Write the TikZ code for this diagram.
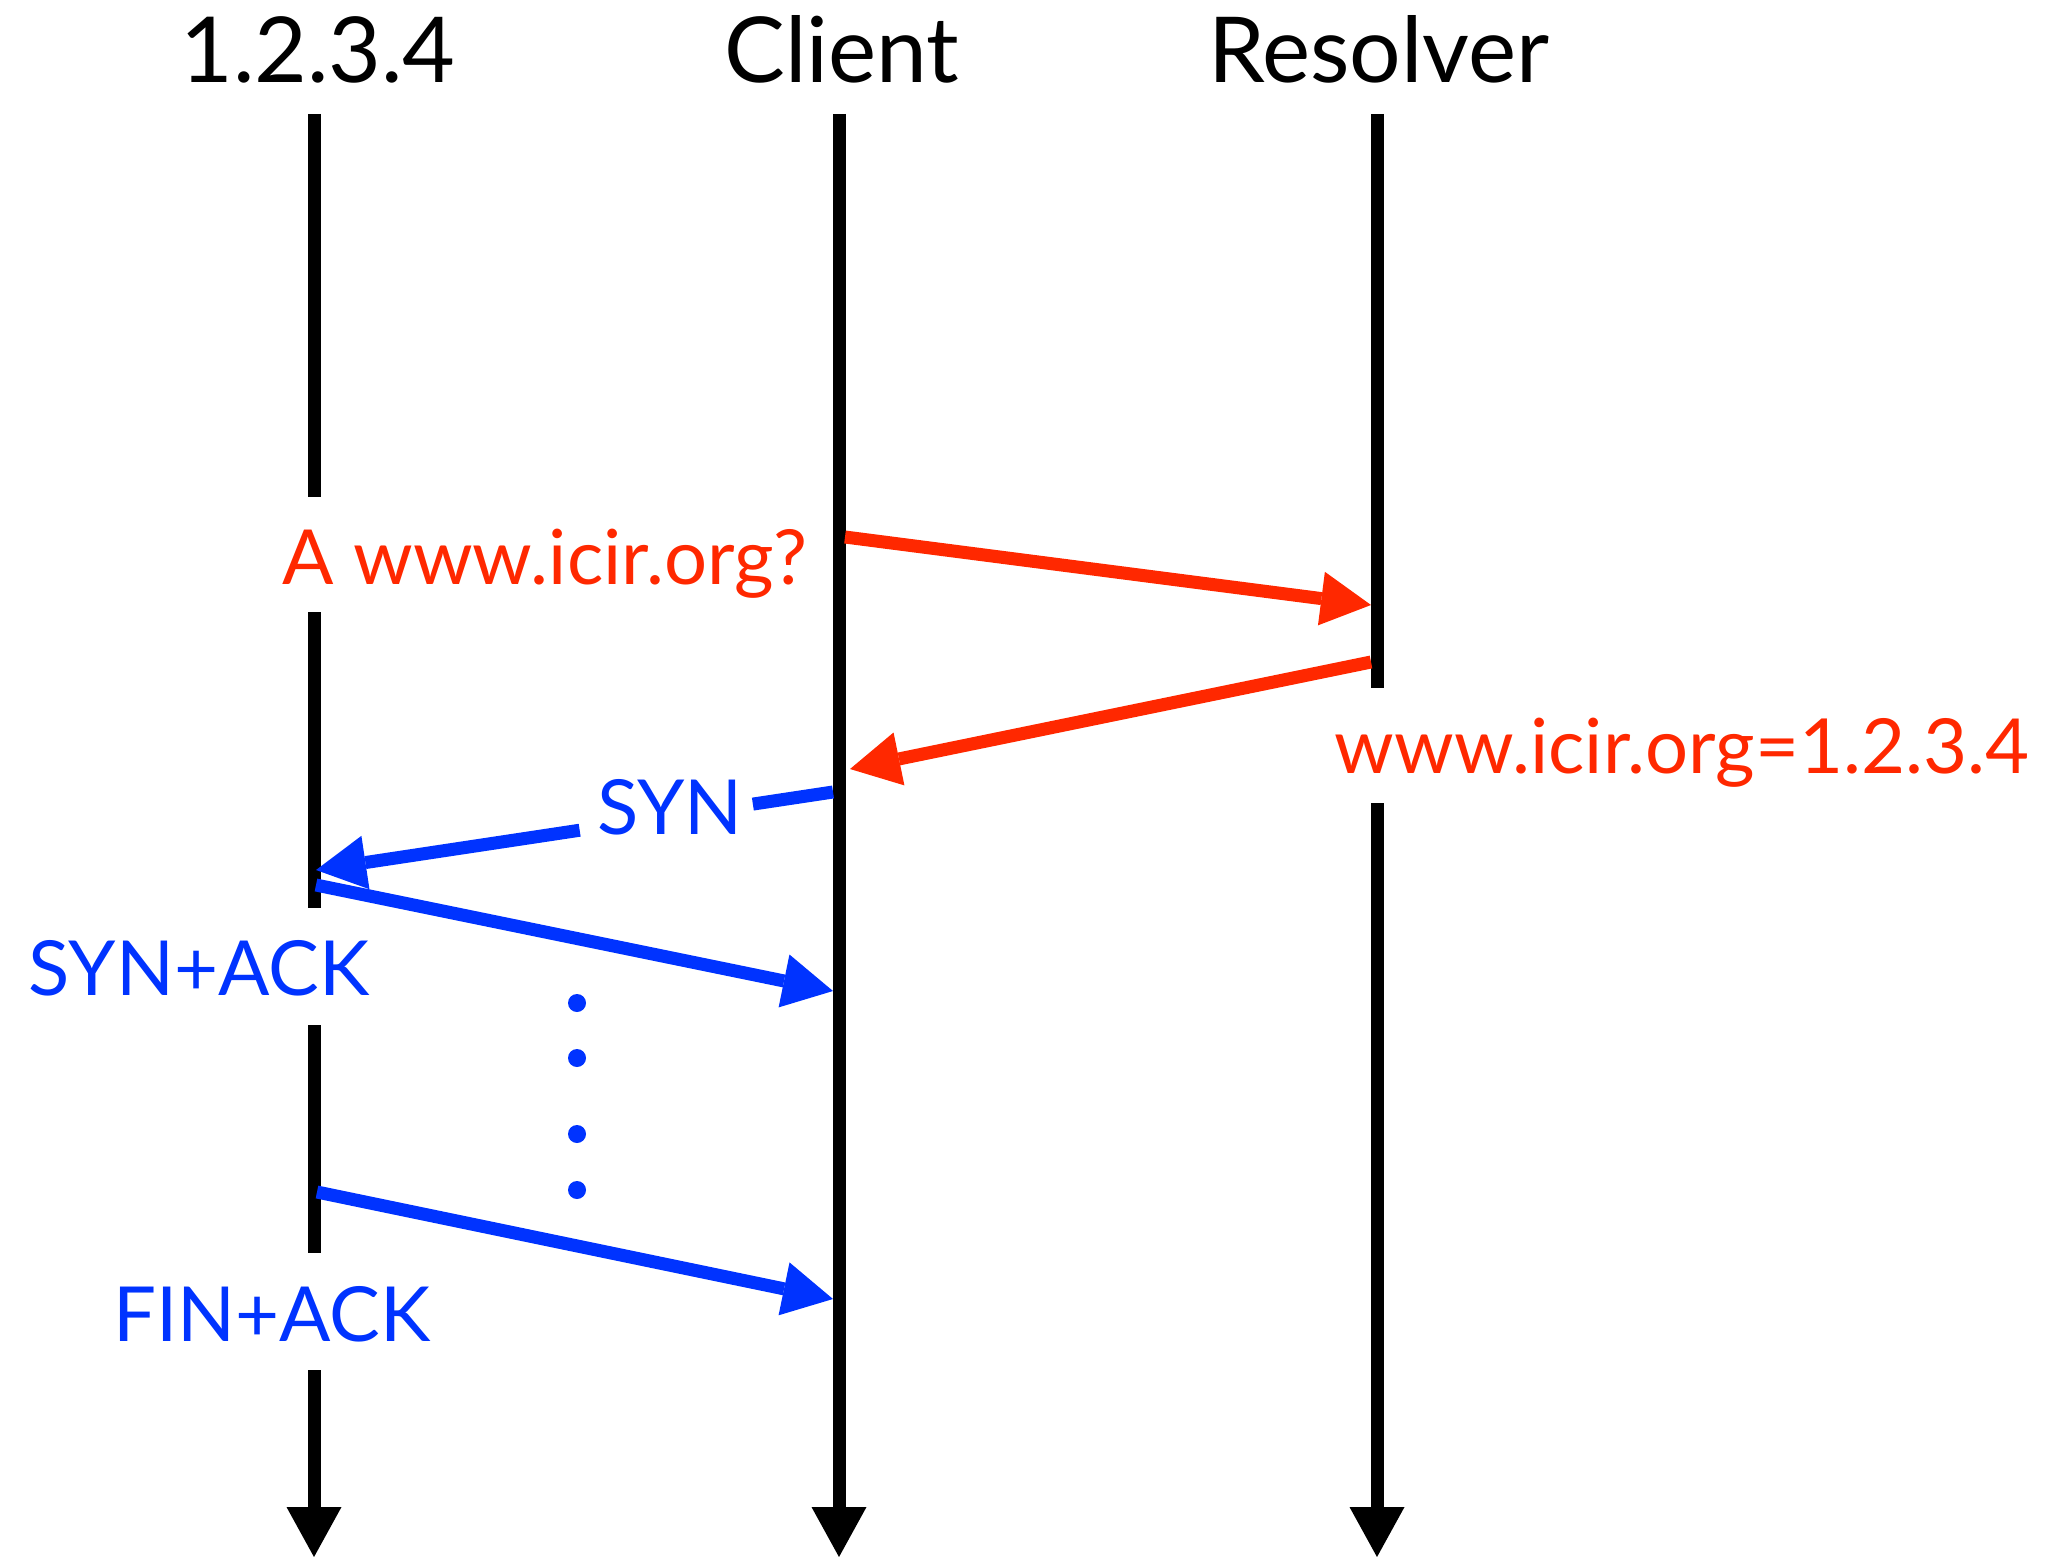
\documentclass[tikz,border=0pt]{standalone}
\usepackage{fontspec}
\setmainfont{Lato}
\usetikzlibrary{arrows.meta}
\definecolor{msgred}{RGB}{255,40,0}
\definecolor{msgblue}{RGB}{0,51,255}

\begin{document}
\begin{tikzpicture}[x=1pt,y=-1pt,
  lifeline/.style={line width=13pt},
  lifeend/.style={line width=13pt,-{Triangle[length=50pt,width=55pt,line width=0pt]}},
  msg/.style={line width=13pt,-{Triangle[length=50pt,width=54pt,line width=0pt]}},
  plainmsg/.style={line width=13pt},
  head/.style={font=\fontsize{91}{100}\selectfont, anchor=base, inner sep=0pt},
  lbl/.style={font=\fontsize{76}{84}\selectfont, anchor=base, inner sep=0pt},
  dot/.style={circle, fill=msgblue, inner sep=0pt, minimum size=18pt}
]
\useasboundingbox (0,0) rectangle (2050,1557);

% column headings
\node[head] (host) at (318,83) {1.2.3.4};
\node[head] (client) at (842,83) {Client};
\node[head] (resolver) at (1379,83) {Resolver};

% lifeline break points
\coordinate (h0) at (314,114);
\coordinate (h1) at (314,497);
\coordinate (h2) at (314,612);
\coordinate (h3) at (314,908);
\coordinate (h4) at (314,1025);
\coordinate (h5) at (314,1253);
\coordinate (h6) at (314,1370);
\coordinate (hend) at (314,1557);
\coordinate (c0) at (839,114);
\coordinate (cend) at (839,1557);
\coordinate (r0) at (1377,114);
\coordinate (r1) at (1377,688);
\coordinate (r2) at (1377,803);
\coordinate (rend) at (1377,1557);

% lifelines
\draw[lifeline] (h0) -- (h1);
\draw[lifeline] (h2) -- (h3);
\draw[lifeline] (h4) -- (h5);
\draw[lifeend] (h6) -- (hend);
\draw[lifeend] (c0) -- (cend);
\draw[lifeline] (r0) -- (r1);
\draw[lifeend] (r2) -- (rend);

% message end points
\coordinate (qs) at (845,537);
\coordinate (qe) at (1371,605);
\coordinate (as) at (1371,662);
\coordinate (ae) at (850,769);
\coordinate (ss) at (833,792);
\coordinate (se) at (316,870);
\coordinate (sas) at (316,885);
\coordinate (sae) at (833,991);
\coordinate (fs) at (317,1192);
\coordinate (fe) at (833,1299);
\path (ss) -- (se) coordinate[pos=0.155] (sg1) coordinate[pos=0.49] (sg2);

% DNS exchange
\draw[msg,msgred] (qs) -- (qe);
\draw[msg,msgred] (as) -- (ae);
\node[lbl,text=msgred] (query) at (545,584) {A www.icir.org?};
\node[lbl,text=msgred] (answer) at (1682,773) {www.icir.org=1.2.3.4};

% TCP exchange
\draw[plainmsg,msgblue] (ss) -- (sg1);
\draw[msg,msgblue] (sg2) -- (se);
\draw[msg,msgblue] (sas) -- (sae);
\draw[msg,msgblue] (fs) -- (fe);
\node[lbl,text=msgblue] (synlbl) at (670,834) {SYN};
\node[lbl,text=msgblue] (synacklbl) at (199,995) {SYN+ACK};
\node[lbl,text=msgblue] (finlbl) at (272,1341) {FIN+ACK};

% elided packets
\node[dot] (d1) at (577,1003) {};
\node[dot] (d2) at (577,1058) {};
\node[dot] (d3) at (577,1134) {};
\node[dot] (d4) at (577,1190) {};
\end{tikzpicture}
\end{document}
